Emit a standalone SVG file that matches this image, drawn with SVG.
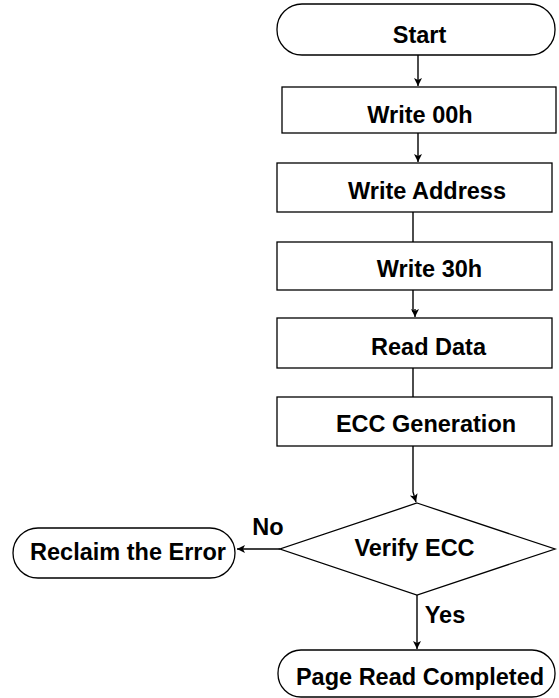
<svg xmlns="http://www.w3.org/2000/svg" width="559" height="698" viewBox="0 0 559 698">
<style>
.s{fill:#fff;stroke:#000;stroke-width:1.3}
.t{font-family:"Liberation Sans",Arial,sans-serif;font-weight:bold;font-size:23.5px;fill:#000;text-anchor:middle}
.c{fill:none;stroke:#000;stroke-width:1.4}
</style>
<defs>
<marker id="ah" markerUnits="userSpaceOnUse" markerWidth="10" markerHeight="10" refX="8" refY="4" orient="auto">
<path d="M0,0 L8,4 L0,8 L2,4 Z" fill="#000"/>
</marker>
</defs>
<rect width="559" height="698" fill="#fff"/>
<g id="connectors">
<line class="c" x1="418" y1="55" x2="418" y2="86" marker-end="url(#ah)"/>
<line class="c" x1="418" y1="133" x2="418" y2="162" marker-end="url(#ah)"/>
<line class="c" x1="413" y1="212" x2="413" y2="242"/>
<line class="c" x1="413" y1="290" x2="413" y2="312"/>
<line class="c" x1="415" y1="309" x2="415" y2="317" marker-end="url(#ah)"/>
<line class="c" x1="413" y1="368" x2="413" y2="397"/>
<polyline class="c" points="413,446 413,492 416,502" marker-end="url(#ah)"/>
<line class="c" x1="417" y1="595" x2="417" y2="649" marker-end="url(#ah)"/>
<line class="c" x1="280" y1="549" x2="237" y2="549" marker-end="url(#ah)"/>
<text class="t" x="268" y="535">No</text>
<text class="t" x="445" y="623">Yes</text>
</g>
<g id="start">
<rect class="s" x="277" y="4" width="278" height="51" rx="25" ry="25"/>
<text class="t" x="419.5" y="43">Start</text>
</g>
<g id="write00h">
<rect class="s" x="282" y="87" width="274" height="46"/>
<text class="t" x="420" y="122.5">Write 00h</text>
</g>
<g id="writeaddress">
<rect class="s" x="277" y="163" width="275" height="49"/>
<text class="t" x="427" y="199">Write Address</text>
</g>
<g id="write30h">
<rect class="s" x="277" y="242" width="275" height="48"/>
<text class="t" x="429.5" y="277">Write 30h</text>
</g>
<g id="readdata">
<rect class="s" x="277" y="318" width="275" height="50"/>
<text class="t" x="428.5" y="355">Read Data</text>
</g>
<g id="eccgen">
<rect class="s" x="277" y="397" width="275" height="49"/>
<text class="t" x="426" y="432">ECC Generation</text>
</g>
<g id="verifyecc">
<polygon class="s" points="417,503 555,549 417,595 280,549"/>
<text class="t" x="414.5" y="556">Verify ECC</text>
</g>
<g id="reclaim">
<rect class="s" x="13" y="528" width="222" height="50" rx="25" ry="25"/>
<text class="t" x="128" y="560">Reclaim the Error</text>
</g>
<g id="pagereadcompleted">
<rect class="s" x="278" y="650" width="277" height="47" rx="23" ry="23"/>
<text class="t" x="420" y="685">Page Read Completed</text>
</g>
</svg>
